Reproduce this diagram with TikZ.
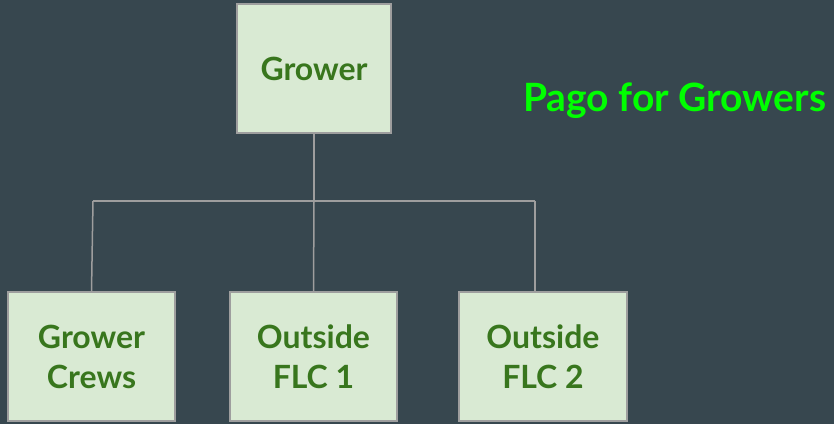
\documentclass[tikz,border=0pt]{standalone}
\usepackage{fontspec}
\setmainfont{Lato}
\definecolor{bg}{HTML}{37474F}
\definecolor{boxfill}{HTML}{D9EAD3}
\definecolor{boxline}{HTML}{9E9E9E}
\definecolor{txt}{HTML}{38761D}
\definecolor{title}{HTML}{00FF00}
\begin{document}
\begin{tikzpicture}[x=1pt,y=-1pt,
  orgbox/.style={draw=boxline,line width=1.5pt,fill=boxfill,text=txt,font=\fontsize{32}{40}\selectfont\bfseries,align=center,inner sep=0pt},
  conn/.style={draw=boxline,line width=1.5pt}]
\fill[bg] (0,0) rectangle (834,424);
\useasboundingbox (0,0) rectangle (834,424);
\node[orgbox,minimum width=154pt,minimum height=129pt] (grower) at (314,68.5) {Grower};
\node[orgbox,minimum width=167pt,minimum height=129pt] (crews) at (91.5,356.5) {Grower\\Crews};
\node[orgbox,minimum width=167pt,minimum height=129pt] (flc1) at (313.5,356.5) {Outside\\FLC 1};
\node[orgbox,minimum width=168pt,minimum height=129pt] (flc2) at (543,356.5) {Outside\\FLC 2};
\node[text=title,font=\fontsize{39}{46}\selectfont\bfseries,anchor=west,inner sep=0pt] (ttl) at (523,101) {Pago for Growers};
\coordinate (bus) at (314,201);
\coordinate (busl) at (93,201);
\coordinate (busr) at (535,201);
\draw[conn] (grower.south) -- (bus);
\draw[conn] (busl) -- (busr);
\draw[conn] (busl) -- (crews.north);
\draw[conn] (bus) -- (flc1.north);
\draw[conn] (busr) -- (busr |- flc2.north);
\end{tikzpicture}
\end{document}
